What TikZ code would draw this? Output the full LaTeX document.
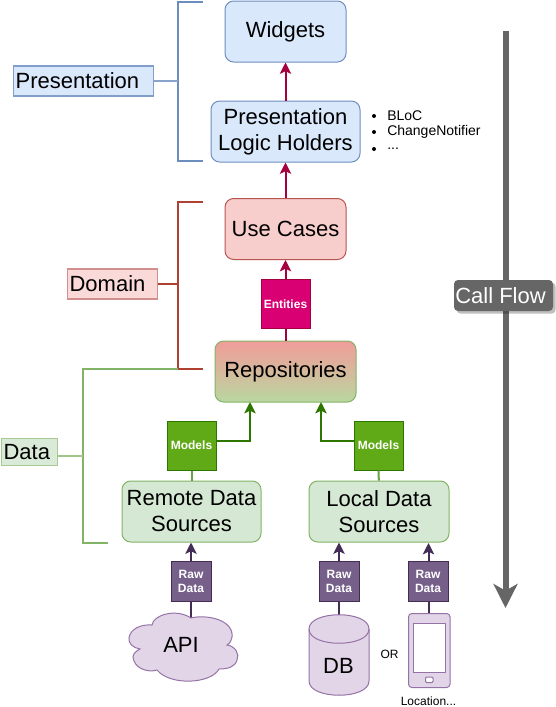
\documentclass[tikz,border=0pt]{standalone}
\usepackage{fontspec}
\setmainfont{Liberation Sans}
\usetikzlibrary{arrows.meta,shadows}
\definecolor{bluefill}{HTML}{DAE8FC}
\definecolor{blueline}{HTML}{6C8EBF}
\definecolor{redfill}{HTML}{F8CECC}
\definecolor{redline}{HTML}{B85450}
\definecolor{redbrace}{HTML}{AE4132}
\definecolor{redtop}{HTML}{F19C99}
\definecolor{greenfill}{HTML}{D5E8D4}
\definecolor{greenline}{HTML}{82B366}
\definecolor{greenbottom}{HTML}{B9D7A0}
\definecolor{entityfill}{HTML}{D80073}
\definecolor{entityline}{HTML}{A50040}
\definecolor{modelfill}{HTML}{60A917}
\definecolor{modelline}{HTML}{2D7600}
\definecolor{rawfill}{HTML}{76608A}
\definecolor{rawline}{HTML}{432D57}
\definecolor{sourcefill}{HTML}{E1D5E7}
\definecolor{sourceline}{HTML}{9673A6}
\definecolor{flowgray}{HTML}{666666}
\tikzset{
  bigtext/.style={font=\fontsize{16.5}{19.5}\selectfont, align=center},
  layerbox/.style={bigtext, rounded corners=6.5pt, inner sep=0pt, line width=0.75pt},
  tagbox/.style={font=\fontsize{16.5}{19.5}\selectfont, align=left, draw, inner sep=0pt, anchor=west, line width=0.9pt},
  databox/.style={minimum size=36.75pt, inner sep=0pt, text=white, line width=0.75pt,
    font=\fontsize{9}{10.8}\selectfont\bfseries, align=center},
  rawbox/.style={minimum size=30pt, inner sep=0pt, text=white, line width=0.75pt, draw=rawline, fill=rawfill,
    font=\fontsize{9}{10.5}\selectfont\bfseries, align=center},
  flowarrow/.style={line width=1.5pt, -{Stealth[length=8.5pt, width=8.5pt, inset=2pt]}},
  plainline/.style={line width=1.5pt},
  smalltext/.style={font=\fontsize{9}{10.8}\selectfont, inner sep=0pt},
  listtext/.style={font=\fontsize{10.5}{12.6}\selectfont, inner sep=0pt, anchor=west}
}
\begin{document}
\begin{tikzpicture}[x=0.75pt, y=-0.75pt]
  \useasboundingbox (0,0) rectangle (556,707);

  \node[layerbox, draw=blueline, fill=bluefill, minimum width=90.75pt, minimum height=45.75pt] (widgets) at (285.5,31.5) {Widgets};
  \node[layerbox, draw=blueline, fill=bluefill, minimum width=111.75pt, minimum height=45.75pt] (holders) at (285.5,131.5) {Presentation\\Logic Holders};
  \node[layerbox, draw=redline, fill=redfill, minimum width=90.75pt, minimum height=45.75pt] (usecases) at (285.5,229) {Use Cases};
  \node[databox, draw=entityline, fill=entityfill] (entities) at (285.5,304) {Entities};
  \node[layerbox, draw=greenline, top color=redtop, bottom color=greenbottom, minimum width=105.75pt, minimum height=45.75pt] (repos) at (285.5,371.5) {Repositories};
  \node[layerbox, draw=greenline, fill=greenfill, minimum width=104.25pt, minimum height=45.75pt] (remote) at (191.5,511.5) {Remote Data\\Sources};
  \node[layerbox, draw=greenline, fill=greenfill, minimum width=105pt, minimum height=45.75pt] (local) at (379,511.5) {Local Data\\Sources};
  \node[databox, draw=modelline, fill=modelfill] (modelsremote) at (191.5,445.5) {Models};
  \node[databox, draw=modelline, fill=modelfill] (modelslocal) at (378.5,445.5) {Models};
  \node[rawbox] (rawapi) at (191,581) {Raw\\Data};
  \node[rawbox] (rawdb) at (339,581) {Raw\\Data};
  \node[rawbox] (rawloc) at (428,581) {Raw\\Data};

  \coordinate (reposleft) at (250,402);
  \coordinate (reposright) at (321,402);
  \coordinate (localin) at (428.5,543);
  \coordinate (apitop) at (191,618);
  \coordinate (dbtop) at (339,615);
  \coordinate (phonetop) at (428.5,613);

  \draw[flowarrow, entityline] (holders) -- (widgets);
  \draw[flowarrow, entityline] (usecases) -- (holders);
  \draw[flowarrow, entityline] (entities) -- (usecases);
  \draw[plainline, entityline] (repos) -- (entities);
  \draw[flowarrow, modelline] (modelsremote.east |- 0,441) -| (reposleft);
  \draw[flowarrow, modelline] (modelslocal.west |- 0,441) -| (reposright);
  \draw[plainline, greenline!70!modelline] (modelsremote) -- (remote);
  \draw[plainline, greenline!70!modelline] (modelslocal) -- (local);
  \draw[flowarrow, rawline] (rawapi) -- (remote.south -| rawapi);
  \draw[flowarrow, rawline] (rawdb) -- (local.south -| rawdb);
  \draw[flowarrow, rawline] (rawloc.north -| localin) -- (localin);
  \draw[plainline, rawline] (rawapi) -- (apitop);
  \draw[plainline, rawline] (rawdb) -- (dbtop);
  \draw[plainline, rawline] (rawloc.south -| phonetop) -- (phonetop);

  \draw[sourceline, fill=sourcefill, line width=0.75pt] (129,638)
    .. controls (130,629) and (141,624) .. (152,625)
    .. controls (153,615) and (176,608) .. (191,618)
    .. controls (207,614) and (234,620) .. (232,637)
    .. controls (232,640) and (230,643) .. (227,645)
    .. controls (235,646) and (240,654) .. (237,660)
    .. controls (235,667) and (228,669) .. (219,669)
    .. controls (211,684) and (170,686) .. (157,670)
    .. controls (147,673) and (134,668) .. (133,657)
    .. controls (133,654) and (136,651) .. (140,649)
    .. controls (133,648) and (128,643) .. (129,638) -- cycle;
  \node[bigtext, inner sep=0pt] (api) at (181,645) {API};

  \draw[sourceline, fill=sourcefill, line width=0.75pt] (309,629) -- (309,681)
    .. controls (309,700) and (369,700) .. (369,681) -- (369,629)
    .. controls (369,610) and (309,610) .. (309,629) -- cycle;
  \draw[sourceline, line width=0.75pt] (309,629) .. controls (309,648) and (369,648) .. (369,629);
  \node[bigtext, inner sep=0pt] (db) at (338.5,666) {DB};
  \node[smalltext] (ortext) at (389.5,654) {OR};

  \draw[sourceline, fill=sourcefill, line width=0.75pt, rounded corners=2.5pt] (408.5,613.5) rectangle (450,687.5);
  \draw[sourceline, fill=white, line width=0.75pt] (413.5,623) rectangle (445.5,672);
  \draw[sourceline, fill=white, line width=0.75pt, rounded corners=0.8pt] (425.5,677) rectangle (433,682.5);
  \node[smalltext] (location) at (428.5,701) {Location...};

  \node[listtext] (bloc) at (387,116) {BLoC};
  \node[listtext] (notifier) at (387,132) {ChangeNotifier};
  \node[listtext] (dots) at (387,149) {...};
  \foreach \name in {bloc,notifier,dots}
    \fill (374,0 |- \name.west) circle (2);

  \node[tagbox, draw=blueline!85, fill=bluefill, minimum width=105pt, minimum height=22.5pt, text width=102pt] (presentation) at (13,81) {Presentation};
  \node[tagbox, draw=redline!65, fill=redfill!75, minimum width=67.5pt, minimum height=22.5pt, text width=64.5pt] (domain) at (67,284) {Domain};
  \node[tagbox, draw=greenline!70, fill=greenfill!90, minimum width=42pt, minimum height=20pt, text width=39pt] (datatag) at (1,452) {Data};

  \coordinate (prestop) at (203,1.5);
  \coordinate (presbottom) at (203,161);
  \coordinate (domaintop) at (203,201.5);
  \coordinate (domainbottom) at (203,368.5);
  \coordinate (datatop) at (178,368.5);
  \coordinate (databottom) at (108,542.5);

  \draw[plainline, blueline] (prestop) -- (178,1.5) -- (178,161) -- (presbottom);
  \draw[plainline, blueline!80] (presentation.east) -- (178,81);
  \draw[plainline, redbrace] (domaintop) -- (178,201.5) -- (178,368.5) -- (domainbottom);
  \draw[plainline, redbrace] (domain.east) -- (178,284);
  \draw[plainline, greenline] (datatop) -- (83,368.5) -- (83,542.5) -- (databottom);
  \draw[plainline, greenline!75] (datatag.east |- 0,455.5) -- (83,455.5);

  \coordinate (flowstart) at (505.5,31);
  \coordinate (flowend) at (505.5,608);
  \draw[flowgray, line width=4.5pt, -{Stealth[length=18pt, width=18pt, inset=5pt]}] (flowstart) -- (flowend);
  \node[bigtext, fill=flowgray, text=white, rounded corners=3pt, inner sep=0pt, minimum width=74.25pt, minimum height=23.25pt,
    drop shadow={shadow xshift=2pt, shadow yshift=-2pt, fill=black, opacity=0.25}] (callflow) at (503.5,295.5) {Call Flow\hspace{4.5pt}};
\end{tikzpicture}
\end{document}
